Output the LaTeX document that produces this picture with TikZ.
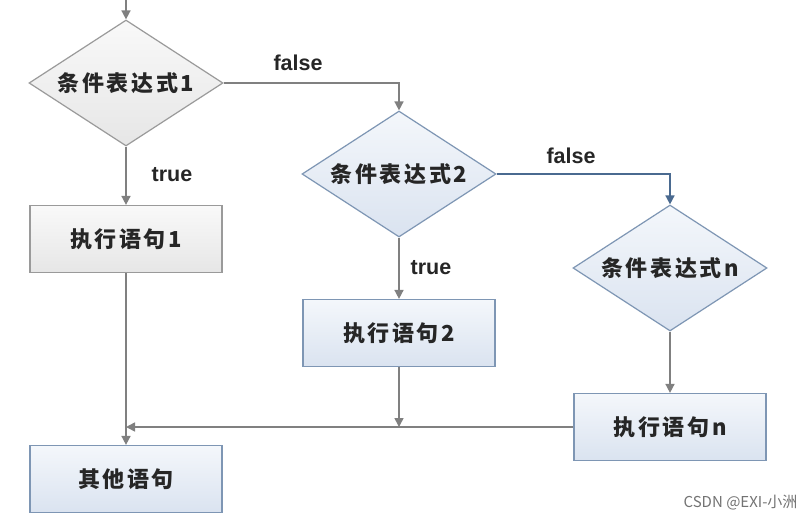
\documentclass[tikz,border=0pt]{standalone}
\usepackage{fontspec}
\usetikzlibrary{shapes.geometric,arrows.meta}
\newfontfamily\cjk{Noto Sans CJK SC}[LetterSpace=12]
\newfontfamily\cjkplain{Noto Sans CJK SC}
\setmainfont{Liberation Sans}
\definecolor{lineg}{HTML}{808080}
\definecolor{lineb}{HTML}{4A6A90}
\definecolor{grayborder}{HTML}{9A9A9A}
\definecolor{blueborder}{HTML}{7E96B4}
\definecolor{graytop}{HTML}{F9F9F9}
\definecolor{graybot}{HTML}{E6E6E6}
\definecolor{bluetop}{HTML}{F4F7FB}
\definecolor{bluebot}{HTML}{DAE3F0}
\tikzset{
  txt/.style={font=\cjk\fontsize{22}{26}\selectfont\bfseries, text=black!85},
  dia/.style={diamond, aspect=1.54, inner sep=0pt, minimum width=194pt, minimum height=126pt, line width=1.2pt, txt},
  graydia/.style={dia, draw=grayborder, top color=graytop, bottom color=graybot},
  bluedia/.style={dia, draw=blueborder, top color=bluetop, bottom color=bluebot},
  boxx/.style={rectangle, minimum width=192pt, minimum height=67pt, inner sep=0pt, line width=1.2pt, txt},
  graybox/.style={boxx, draw=grayborder, top color=graytop, bottom color=graybot},
  bluebox/.style={boxx, draw=blueborder, top color=bluetop, bottom color=bluebot},
  arr/.style={draw=lineg, line width=1.6pt, -{Triangle[width=9pt,length=9pt]}},
  lab/.style={font=\fontsize{21.5}{25}\selectfont\bfseries, text=black!85}
}
\begin{document}
\begin{tikzpicture}[x=1pt, y=-1pt]
\path[use as bounding box, fill=white] (0,0) rectangle (803,522);
\coordinate (start) at (126,0);
\node[graydia] (d1) at (126,83) {条件表达式1};
\node[graybox] (b1) at (126,239) {执行语句1};
\node[bluedia] (d2) at (399,174) {条件表达式2};
\node[bluebox] (b2) at (399,333) {执行语句2};
\node[bluedia] (dn) at (670,268) {条件表达式n};
\node[bluebox] (bn) at (670,427) {执行语句n};
\node[bluebox] (b0) at (126,479) {其他语句};

\draw[arr] (start) -- (d1.north);
\draw[arr] (d1.east) -| (d2.north);
\draw[arr] (d1.south) -- (b1.north);
\draw[arr] (d2.south) -- (b2.north);
\draw[arr, draw=lineb, -{Triangle[width=9pt,length=9pt,fill=lineb]}] (d2.east) -| (dn.north);
\draw[arr] (dn.south) -- (bn.north);
\draw[arr] (b1.south) -- (b0.north);
\coordinate (join2) at (b2.south |- bn.west);
\coordinate (join1) at (b1.south |- bn.west);
\draw[arr] (b2.south) -- (join2);
\draw[arr] (bn.west) -- (join1);

\node[lab] (f1) at (298,63) {false};
\node[lab] (t1) at (172,175) {true};
\node[lab] (f2) at (571,156) {false};
\node[lab] (t2) at (431,268) {true};
\node[anchor=east, font=\cjkplain\fontsize{15}{17}\selectfont, text=black!55] (wm) at (801,503) {CSDN @EXI-小洲};
\end{tikzpicture}
\end{document}
